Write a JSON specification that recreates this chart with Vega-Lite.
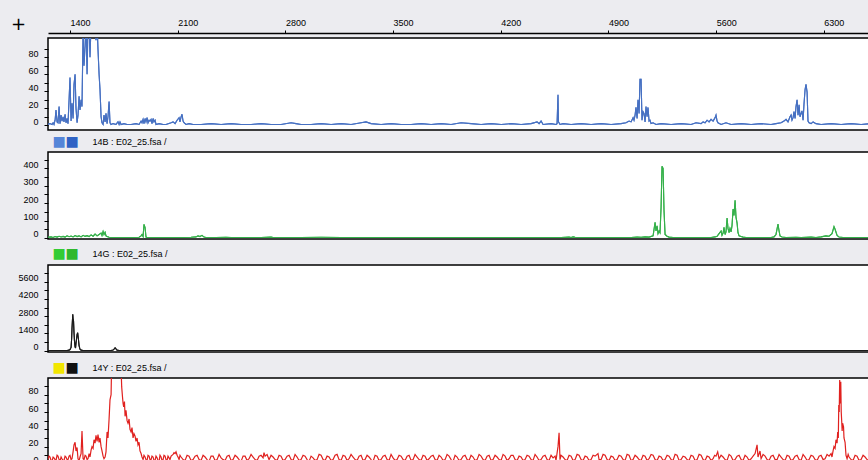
{
"$schema": "https://vega.github.io/schema/vega-lite/v6.json",
"padding": {"top": 14, "left": 0, "right": 0, "bottom": 0},
"background": "#ECECF0",
"bounds": "flush",
"spacing": 22,
"datasets": {
"blue": [{"x":1257,"y":1},{"x":1270,"y":2},{"x":1283,"y":1},{"x":1290,"y":3},{"x":1296,"y":1},{"x":1303,"y":6},{"x":1309,"y":18},{"x":1316,"y":4},{"x":1322,"y":3},{"x":1329,"y":22},{"x":1335,"y":2},{"x":1342,"y":12},{"x":1348,"y":5},{"x":1355,"y":10},{"x":1361,"y":4},{"x":1368,"y":13},{"x":1374,"y":3},{"x":1381,"y":8},{"x":1387,"y":2},{"x":1394,"y":30},{"x":1400,"y":56},{"x":1407,"y":5},{"x":1413,"y":26},{"x":1420,"y":8},{"x":1426,"y":48},{"x":1433,"y":60},{"x":1439,"y":20},{"x":1446,"y":3},{"x":1452,"y":12},{"x":1459,"y":34},{"x":1465,"y":18},{"x":1472,"y":30},{"x":1478,"y":22},{"x":1485,"y":110},{"x":1491,"y":70},{"x":1498,"y":93},{"x":1504,"y":120},{"x":1511,"y":60},{"x":1517,"y":120},{"x":1524,"y":120},{"x":1530,"y":80},{"x":1537,"y":120},{"x":1543,"y":120},{"x":1550,"y":115},{"x":1556,"y":120},{"x":1563,"y":120},{"x":1569,"y":100},{"x":1576,"y":120},{"x":1582,"y":89},{"x":1589,"y":60},{"x":1595,"y":42},{"x":1602,"y":10},{"x":1608,"y":3},{"x":1615,"y":1},{"x":1621,"y":12},{"x":1628,"y":4},{"x":1634,"y":14},{"x":1641,"y":2},{"x":1647,"y":10},{"x":1654,"y":28},{"x":1660,"y":3},{"x":1667,"y":1},{"x":1680,"y":2},{"x":1699,"y":1},{"x":1712,"y":4},{"x":1719,"y":1},{"x":1725,"y":4},{"x":1732,"y":1},{"x":1751,"y":2},{"x":1771,"y":1},{"x":1797,"y":1},{"x":1829,"y":2},{"x":1849,"y":1},{"x":1862,"y":5},{"x":1868,"y":3},{"x":1875,"y":7},{"x":1881,"y":2},{"x":1888,"y":8},{"x":1894,"y":4},{"x":1901,"y":9},{"x":1907,"y":3},{"x":1914,"y":6},{"x":1920,"y":5},{"x":1927,"y":7},{"x":1933,"y":2},{"x":1940,"y":8},{"x":1946,"y":4},{"x":1953,"y":6},{"x":1959,"y":1},{"x":1979,"y":2},{"x":2005,"y":1},{"x":2024,"y":1},{"x":2057,"y":3},{"x":2070,"y":4},{"x":2083,"y":2},{"x":2096,"y":6},{"x":2109,"y":9},{"x":2115,"y":4},{"x":2122,"y":10},{"x":2128,"y":13},{"x":2135,"y":5},{"x":2141,"y":3},{"x":2154,"y":1},{"x":2174,"y":2},{"x":2200,"y":1},{"x":2252,"y":1},{"x":2317,"y":2},{"x":2382,"y":1},{"x":2447,"y":2},{"x":2512,"y":1},{"x":2577,"y":1},{"x":2642,"y":2},{"x":2707,"y":1},{"x":2772,"y":1},{"x":2837,"y":3},{"x":2869,"y":2},{"x":2902,"y":1},{"x":2967,"y":1},{"x":3032,"y":2},{"x":3097,"y":1},{"x":3162,"y":2},{"x":3227,"y":1},{"x":3292,"y":3},{"x":3324,"y":4},{"x":3357,"y":2},{"x":3422,"y":1},{"x":3487,"y":2},{"x":3552,"y":1},{"x":3617,"y":1},{"x":3682,"y":2},{"x":3747,"y":1},{"x":3812,"y":2},{"x":3877,"y":1},{"x":3942,"y":3},{"x":4007,"y":2},{"x":4072,"y":1},{"x":4137,"y":2},{"x":4202,"y":1},{"x":4267,"y":2},{"x":4332,"y":1},{"x":4397,"y":2},{"x":4436,"y":4},{"x":4449,"y":2},{"x":4462,"y":5},{"x":4475,"y":1},{"x":4527,"y":2},{"x":4559,"y":1},{"x":4566,"y":2},{"x":4572,"y":36},{"x":4575,"y":4},{"x":4585,"y":1},{"x":4605,"y":2},{"x":4657,"y":1},{"x":4722,"y":2},{"x":4787,"y":1},{"x":4852,"y":2},{"x":4917,"y":1},{"x":4982,"y":2},{"x":5014,"y":3},{"x":5034,"y":5},{"x":5047,"y":4},{"x":5060,"y":9},{"x":5066,"y":6},{"x":5073,"y":12},{"x":5079,"y":21},{"x":5086,"y":8},{"x":5092,"y":30},{"x":5099,"y":14},{"x":5105,"y":54},{"x":5112,"y":54},{"x":5118,"y":6},{"x":5125,"y":16},{"x":5131,"y":14},{"x":5138,"y":4},{"x":5144,"y":22},{"x":5151,"y":10},{"x":5157,"y":21},{"x":5164,"y":5},{"x":5170,"y":6},{"x":5177,"y":2},{"x":5190,"y":3},{"x":5209,"y":1},{"x":5242,"y":2},{"x":5307,"y":1},{"x":5372,"y":2},{"x":5437,"y":1},{"x":5469,"y":3},{"x":5502,"y":2},{"x":5515,"y":4},{"x":5528,"y":3},{"x":5541,"y":6},{"x":5554,"y":4},{"x":5567,"y":7},{"x":5580,"y":5},{"x":5593,"y":9},{"x":5599,"y":12},{"x":5606,"y":5},{"x":5612,"y":3},{"x":5632,"y":1},{"x":5664,"y":3},{"x":5697,"y":1},{"x":5762,"y":2},{"x":5827,"y":1},{"x":5892,"y":2},{"x":5957,"y":1},{"x":5989,"y":2},{"x":6022,"y":3},{"x":6041,"y":5},{"x":6054,"y":7},{"x":6067,"y":4},{"x":6080,"y":10},{"x":6087,"y":12},{"x":6093,"y":6},{"x":6100,"y":9},{"x":6106,"y":16},{"x":6113,"y":8},{"x":6119,"y":22},{"x":6126,"y":30},{"x":6132,"y":12},{"x":6139,"y":24},{"x":6145,"y":10},{"x":6152,"y":14},{"x":6158,"y":17},{"x":6165,"y":6},{"x":6171,"y":25},{"x":6178,"y":42},{"x":6184,"y":48},{"x":6191,"y":39},{"x":6197,"y":5},{"x":6204,"y":3},{"x":6217,"y":2},{"x":6230,"y":4},{"x":6249,"y":2},{"x":6282,"y":1},{"x":6347,"y":2},{"x":6412,"y":1},{"x":6477,"y":2},{"x":6542,"y":1},{"x":6607,"y":2}],
"green": [{"x":1257,"y":4},{"x":1277,"y":6},{"x":1290,"y":3},{"x":1303,"y":8},{"x":1316,"y":5},{"x":1329,"y":10},{"x":1342,"y":6},{"x":1355,"y":9},{"x":1368,"y":5},{"x":1381,"y":12},{"x":1394,"y":7},{"x":1407,"y":11},{"x":1420,"y":6},{"x":1433,"y":14},{"x":1446,"y":8},{"x":1459,"y":12},{"x":1472,"y":6},{"x":1485,"y":15},{"x":1498,"y":9},{"x":1511,"y":13},{"x":1524,"y":8},{"x":1537,"y":18},{"x":1550,"y":10},{"x":1563,"y":22},{"x":1576,"y":12},{"x":1589,"y":20},{"x":1602,"y":28},{"x":1608,"y":14},{"x":1615,"y":37},{"x":1621,"y":20},{"x":1628,"y":32},{"x":1634,"y":12},{"x":1641,"y":8},{"x":1654,"y":4},{"x":1667,"y":3},{"x":1732,"y":3},{"x":1797,"y":3},{"x":1849,"y":4},{"x":1862,"y":12},{"x":1868,"y":20},{"x":1875,"y":8},{"x":1881,"y":78},{"x":1888,"y":60},{"x":1894,"y":5},{"x":1901,"y":3},{"x":1927,"y":3},{"x":1992,"y":3},{"x":2057,"y":3},{"x":2122,"y":3},{"x":2187,"y":4},{"x":2219,"y":6},{"x":2232,"y":12},{"x":2245,"y":8},{"x":2258,"y":15},{"x":2271,"y":5},{"x":2284,"y":3},{"x":2349,"y":3},{"x":2414,"y":4},{"x":2447,"y":3},{"x":2512,"y":3},{"x":2642,"y":3},{"x":2707,"y":5},{"x":2720,"y":3},{"x":2772,"y":3},{"x":2902,"y":3},{"x":3032,"y":4},{"x":3162,"y":3},{"x":3292,"y":3},{"x":3422,"y":3},{"x":3552,"y":3},{"x":3682,"y":3},{"x":3812,"y":3},{"x":3942,"y":3},{"x":4072,"y":3},{"x":4202,"y":3},{"x":4332,"y":3},{"x":4462,"y":3},{"x":4592,"y":3},{"x":4644,"y":5},{"x":4657,"y":3},{"x":4670,"y":6},{"x":4683,"y":4},{"x":4696,"y":3},{"x":4787,"y":3},{"x":4852,"y":3},{"x":4982,"y":3},{"x":5047,"y":3},{"x":5086,"y":5},{"x":5112,"y":4},{"x":5138,"y":6},{"x":5164,"y":5},{"x":5190,"y":12},{"x":5203,"y":90},{"x":5209,"y":40},{"x":5216,"y":70},{"x":5222,"y":25},{"x":5229,"y":40},{"x":5235,"y":30},{"x":5242,"y":175},{"x":5248,"y":412},{"x":5255,"y":400},{"x":5261,"y":160},{"x":5268,"y":20},{"x":5281,"y":10},{"x":5294,"y":5},{"x":5320,"y":3},{"x":5437,"y":3},{"x":5567,"y":3},{"x":5593,"y":6},{"x":5606,"y":10},{"x":5619,"y":25},{"x":5632,"y":40},{"x":5638,"y":15},{"x":5645,"y":28},{"x":5651,"y":61},{"x":5658,"y":20},{"x":5664,"y":35},{"x":5671,"y":115},{"x":5677,"y":55},{"x":5684,"y":30},{"x":5690,"y":55},{"x":5697,"y":35},{"x":5703,"y":70},{"x":5710,"y":166},{"x":5716,"y":130},{"x":5723,"y":217},{"x":5729,"y":120},{"x":5736,"y":85},{"x":5742,"y":30},{"x":5749,"y":12},{"x":5762,"y":8},{"x":5775,"y":5},{"x":5794,"y":3},{"x":5892,"y":3},{"x":5957,"y":3},{"x":5976,"y":6},{"x":5989,"y":20},{"x":5996,"y":52},{"x":6002,"y":80},{"x":6009,"y":40},{"x":6015,"y":12},{"x":6028,"y":5},{"x":6054,"y":3},{"x":6119,"y":4},{"x":6152,"y":3},{"x":6217,"y":5},{"x":6249,"y":3},{"x":6282,"y":6},{"x":6314,"y":12},{"x":6334,"y":10},{"x":6353,"y":25},{"x":6366,"y":65},{"x":6373,"y":50},{"x":6386,"y":15},{"x":6399,"y":5},{"x":6425,"y":3},{"x":6477,"y":3},{"x":6542,"y":3},{"x":6607,"y":3}],
"black": [{"x":1257,"y":0},{"x":1342,"y":0},{"x":1381,"y":0},{"x":1394,"y":30},{"x":1400,"y":80},{"x":1407,"y":250},{"x":1411,"y":1040},{"x":1413,"y":1800},{"x":1418,"y":2945},{"x":1420,"y":2600},{"x":1423,"y":2400},{"x":1426,"y":1450},{"x":1429,"y":800},{"x":1433,"y":300},{"x":1436,"y":200},{"x":1439,"y":600},{"x":1442,"y":900},{"x":1446,"y":1300},{"x":1450,"y":1450},{"x":1452,"y":1200},{"x":1455,"y":900},{"x":1459,"y":400},{"x":1465,"y":100},{"x":1472,"y":30},{"x":1485,"y":0},{"x":1667,"y":0},{"x":1680,"y":40},{"x":1686,"y":120},{"x":1693,"y":220},{"x":1699,"y":130},{"x":1706,"y":30},{"x":1719,"y":0},{"x":2252,"y":0},{"x":3552,"y":0},{"x":4852,"y":0},{"x":6607,"y":0}],
"red": [{"x":1257,"y":5},{"x":1264,"y":9},{"x":1270,"y":8},{"x":1277,"y":4},{"x":1283,"y":3},{"x":1290,"y":8},{"x":1296,"y":7},{"x":1303,"y":5},{"x":1309,"y":4},{"x":1316,"y":10},{"x":1322,"y":9},{"x":1329,"y":5},{"x":1335,"y":3},{"x":1342,"y":8},{"x":1348,"y":6},{"x":1355,"y":4},{"x":1361,"y":4},{"x":1368,"y":9},{"x":1374,"y":8},{"x":1381,"y":5},{"x":1387,"y":5},{"x":1394,"y":9},{"x":1400,"y":10},{"x":1407,"y":5},{"x":1413,"y":6},{"x":1420,"y":14},{"x":1426,"y":22},{"x":1433,"y":25},{"x":1439,"y":15},{"x":1446,"y":19},{"x":1452,"y":6},{"x":1459,"y":4},{"x":1465,"y":8},{"x":1472,"y":12},{"x":1478,"y":38},{"x":1485,"y":6},{"x":1491,"y":5},{"x":1498,"y":10},{"x":1504,"y":9},{"x":1511,"y":5},{"x":1517,"y":6},{"x":1524,"y":12},{"x":1530,"y":8},{"x":1537,"y":16},{"x":1543,"y":20},{"x":1550,"y":18},{"x":1556,"y":28},{"x":1563,"y":24},{"x":1569,"y":33},{"x":1576,"y":26},{"x":1582,"y":34},{"x":1589,"y":25},{"x":1595,"y":30},{"x":1602,"y":20},{"x":1608,"y":15},{"x":1615,"y":9},{"x":1621,"y":6},{"x":1628,"y":8},{"x":1634,"y":14},{"x":1641,"y":37},{"x":1647,"y":30},{"x":1654,"y":52},{"x":1660,"y":74},{"x":1667,"y":80},{"x":1671,"y":120},{"x":1680,"y":130},{"x":1693,"y":130},{"x":1706,"y":130},{"x":1719,"y":130},{"x":1732,"y":110},{"x":1736,"y":89},{"x":1741,"y":78},{"x":1745,"y":70},{"x":1749,"y":66},{"x":1754,"y":72},{"x":1758,"y":55},{"x":1764,"y":62},{"x":1771,"y":50},{"x":1777,"y":47},{"x":1784,"y":52},{"x":1790,"y":40},{"x":1797,"y":37},{"x":1803,"y":42},{"x":1810,"y":30},{"x":1816,"y":35},{"x":1823,"y":32},{"x":1829,"y":26},{"x":1836,"y":30},{"x":1842,"y":22},{"x":1849,"y":25},{"x":1855,"y":15},{"x":1862,"y":12},{"x":1868,"y":8},{"x":1875,"y":5},{"x":1881,"y":10},{"x":1888,"y":8},{"x":1894,"y":5},{"x":1901,"y":4},{"x":1907,"y":10},{"x":1914,"y":9},{"x":1920,"y":5},{"x":1927,"y":5},{"x":1933,"y":9},{"x":1940,"y":8},{"x":1946,"y":4},{"x":1953,"y":4},{"x":1959,"y":9},{"x":1966,"y":7},{"x":1972,"y":4},{"x":1979,"y":3},{"x":1985,"y":10},{"x":1992,"y":8},{"x":1998,"y":4},{"x":2005,"y":5},{"x":2011,"y":10},{"x":2018,"y":9},{"x":2024,"y":5},{"x":2031,"y":4},{"x":2037,"y":9},{"x":2044,"y":7},{"x":2050,"y":5},{"x":2057,"y":9},{"x":2070,"y":11},{"x":2076,"y":13},{"x":2083,"y":12},{"x":2089,"y":14},{"x":2096,"y":10},{"x":2102,"y":8},{"x":2109,"y":5},{"x":2115,"y":10},{"x":2122,"y":8},{"x":2135,"y":5},{"x":2148,"y":4},{"x":2161,"y":10},{"x":2174,"y":9},{"x":2187,"y":4},{"x":2200,"y":5},{"x":2213,"y":9},{"x":2226,"y":10},{"x":2239,"y":5},{"x":2252,"y":4},{"x":2265,"y":10},{"x":2278,"y":8},{"x":2291,"y":5},{"x":2304,"y":3},{"x":2317,"y":9},{"x":2330,"y":9},{"x":2343,"y":4},{"x":2356,"y":5},{"x":2369,"y":11},{"x":2382,"y":7},{"x":2395,"y":5},{"x":2408,"y":4},{"x":2421,"y":9},{"x":2434,"y":10},{"x":2447,"y":4},{"x":2460,"y":5},{"x":2473,"y":10},{"x":2486,"y":8},{"x":2499,"y":5},{"x":2512,"y":3},{"x":2525,"y":9},{"x":2538,"y":9},{"x":2551,"y":4},{"x":2564,"y":6},{"x":2577,"y":11},{"x":2590,"y":8},{"x":2603,"y":5},{"x":2616,"y":4},{"x":2629,"y":9},{"x":2642,"y":10},{"x":2655,"y":7},{"x":2661,"y":13},{"x":2668,"y":9},{"x":2681,"y":11},{"x":2694,"y":5},{"x":2707,"y":10},{"x":2720,"y":8},{"x":2733,"y":5},{"x":2746,"y":4},{"x":2759,"y":10},{"x":2772,"y":9},{"x":2785,"y":4},{"x":2798,"y":5},{"x":2811,"y":9},{"x":2824,"y":10},{"x":2837,"y":5},{"x":2850,"y":4},{"x":2863,"y":11},{"x":2876,"y":8},{"x":2889,"y":4},{"x":2902,"y":5},{"x":2915,"y":10},{"x":2928,"y":9},{"x":2941,"y":5},{"x":2954,"y":3},{"x":2967,"y":9},{"x":2980,"y":7},{"x":2993,"y":4},{"x":3006,"y":5},{"x":3019,"y":11},{"x":3032,"y":10},{"x":3045,"y":5},{"x":3058,"y":4},{"x":3071,"y":9},{"x":3084,"y":8},{"x":3097,"y":4},{"x":3110,"y":5},{"x":3123,"y":10},{"x":3136,"y":11},{"x":3149,"y":5},{"x":3162,"y":4},{"x":3175,"y":10},{"x":3188,"y":9},{"x":3201,"y":4},{"x":3214,"y":6},{"x":3227,"y":11},{"x":3240,"y":8},{"x":3253,"y":5},{"x":3266,"y":4},{"x":3279,"y":9},{"x":3292,"y":10},{"x":3305,"y":4},{"x":3318,"y":5},{"x":3331,"y":10},{"x":3344,"y":8},{"x":3357,"y":5},{"x":3370,"y":3},{"x":3383,"y":10},{"x":3396,"y":9},{"x":3409,"y":4},{"x":3422,"y":5},{"x":3435,"y":9},{"x":3448,"y":10},{"x":3461,"y":5},{"x":3474,"y":4},{"x":3487,"y":11},{"x":3500,"y":7},{"x":3513,"y":4},{"x":3526,"y":5},{"x":3539,"y":10},{"x":3552,"y":9},{"x":3565,"y":5},{"x":3578,"y":4},{"x":3591,"y":9},{"x":3604,"y":10},{"x":3617,"y":4},{"x":3630,"y":5},{"x":3643,"y":11},{"x":3656,"y":8},{"x":3669,"y":5},{"x":3682,"y":4},{"x":3695,"y":10},{"x":3708,"y":9},{"x":3721,"y":4},{"x":3734,"y":6},{"x":3747,"y":9},{"x":3760,"y":10},{"x":3773,"y":5},{"x":3786,"y":4},{"x":3799,"y":10},{"x":3812,"y":8},{"x":3825,"y":4},{"x":3838,"y":5},{"x":3851,"y":11},{"x":3864,"y":9},{"x":3877,"y":5},{"x":3890,"y":3},{"x":3903,"y":10},{"x":3916,"y":8},{"x":3929,"y":4},{"x":3942,"y":5},{"x":3955,"y":9},{"x":3968,"y":10},{"x":3981,"y":5},{"x":3994,"y":4},{"x":4007,"y":10},{"x":4020,"y":8},{"x":4033,"y":4},{"x":4046,"y":5},{"x":4059,"y":11},{"x":4072,"y":9},{"x":4085,"y":5},{"x":4098,"y":4},{"x":4111,"y":9},{"x":4124,"y":10},{"x":4137,"y":4},{"x":4150,"y":5},{"x":4163,"y":10},{"x":4176,"y":8},{"x":4189,"y":5},{"x":4202,"y":4},{"x":4215,"y":11},{"x":4228,"y":9},{"x":4241,"y":4},{"x":4254,"y":6},{"x":4267,"y":10},{"x":4280,"y":10},{"x":4293,"y":5},{"x":4306,"y":4},{"x":4319,"y":9},{"x":4332,"y":8},{"x":4345,"y":4},{"x":4358,"y":5},{"x":4371,"y":10},{"x":4384,"y":9},{"x":4397,"y":5},{"x":4410,"y":4},{"x":4423,"y":11},{"x":4436,"y":8},{"x":4449,"y":4},{"x":4462,"y":5},{"x":4475,"y":9},{"x":4488,"y":10},{"x":4501,"y":5},{"x":4514,"y":4},{"x":4527,"y":10},{"x":4540,"y":7},{"x":4553,"y":9},{"x":4559,"y":4},{"x":4572,"y":20},{"x":4579,"y":36},{"x":4585,"y":5},{"x":4592,"y":10},{"x":4605,"y":8},{"x":4618,"y":5},{"x":4631,"y":4},{"x":4644,"y":10},{"x":4657,"y":9},{"x":4670,"y":4},{"x":4683,"y":5},{"x":4696,"y":11},{"x":4709,"y":10},{"x":4722,"y":5},{"x":4735,"y":4},{"x":4748,"y":9},{"x":4761,"y":8},{"x":4774,"y":4},{"x":4787,"y":5},{"x":4800,"y":10},{"x":4813,"y":9},{"x":4832,"y":12},{"x":4839,"y":5},{"x":4852,"y":5},{"x":4865,"y":11},{"x":4878,"y":10},{"x":4891,"y":5},{"x":4904,"y":4},{"x":4917,"y":9},{"x":4930,"y":8},{"x":4943,"y":4},{"x":4956,"y":5},{"x":4969,"y":10},{"x":4982,"y":9},{"x":4995,"y":5},{"x":5008,"y":4},{"x":5021,"y":11},{"x":5034,"y":10},{"x":5047,"y":4},{"x":5060,"y":5},{"x":5073,"y":10},{"x":5086,"y":8},{"x":5099,"y":5},{"x":5112,"y":4},{"x":5125,"y":10},{"x":5138,"y":9},{"x":5151,"y":4},{"x":5164,"y":6},{"x":5177,"y":11},{"x":5190,"y":10},{"x":5203,"y":5},{"x":5216,"y":4},{"x":5229,"y":9},{"x":5242,"y":8},{"x":5255,"y":4},{"x":5268,"y":5},{"x":5281,"y":10},{"x":5294,"y":9},{"x":5307,"y":5},{"x":5320,"y":4},{"x":5333,"y":11},{"x":5346,"y":10},{"x":5359,"y":4},{"x":5372,"y":5},{"x":5385,"y":9},{"x":5398,"y":8},{"x":5411,"y":5},{"x":5424,"y":4},{"x":5437,"y":10},{"x":5450,"y":9},{"x":5463,"y":4},{"x":5476,"y":5},{"x":5489,"y":11},{"x":5502,"y":10},{"x":5515,"y":5},{"x":5528,"y":4},{"x":5541,"y":9},{"x":5554,"y":8},{"x":5567,"y":4},{"x":5580,"y":6},{"x":5590,"y":10},{"x":5599,"y":9},{"x":5610,"y":14},{"x":5619,"y":6},{"x":5632,"y":10},{"x":5645,"y":8},{"x":5658,"y":5},{"x":5671,"y":4},{"x":5684,"y":11},{"x":5697,"y":9},{"x":5710,"y":4},{"x":5723,"y":5},{"x":5736,"y":9},{"x":5749,"y":10},{"x":5762,"y":5},{"x":5775,"y":4},{"x":5788,"y":10},{"x":5801,"y":8},{"x":5814,"y":4},{"x":5827,"y":6},{"x":5840,"y":9},{"x":5853,"y":12},{"x":5866,"y":22},{"x":5872,"y":8},{"x":5885,"y":15},{"x":5892,"y":6},{"x":5905,"y":11},{"x":5918,"y":9},{"x":5931,"y":5},{"x":5944,"y":4},{"x":5957,"y":9},{"x":5970,"y":10},{"x":5983,"y":5},{"x":5996,"y":5},{"x":6009,"y":11},{"x":6022,"y":8},{"x":6035,"y":5},{"x":6048,"y":4},{"x":6061,"y":10},{"x":6074,"y":9},{"x":6087,"y":4},{"x":6100,"y":5},{"x":6113,"y":9},{"x":6126,"y":10},{"x":6139,"y":5},{"x":6152,"y":4},{"x":6165,"y":11},{"x":6178,"y":8},{"x":6191,"y":4},{"x":6204,"y":5},{"x":6217,"y":10},{"x":6230,"y":9},{"x":6243,"y":5},{"x":6256,"y":4},{"x":6269,"y":9},{"x":6282,"y":10},{"x":6295,"y":5},{"x":6308,"y":6},{"x":6321,"y":11},{"x":6334,"y":9},{"x":6347,"y":12},{"x":6353,"y":8},{"x":6360,"y":15},{"x":6366,"y":20},{"x":6373,"y":18},{"x":6379,"y":28},{"x":6386,"y":24},{"x":6390,"y":37},{"x":6394,"y":30},{"x":6397,"y":68},{"x":6400,"y":60},{"x":6403,"y":97},{"x":6406,"y":70},{"x":6410,"y":95},{"x":6413,"y":60},{"x":6416,"y":50},{"x":6419,"y":38},{"x":6422,"y":47},{"x":6428,"y":43},{"x":6431,"y":30},{"x":6438,"y":25},{"x":6444,"y":10},{"x":6451,"y":6},{"x":6458,"y":11},{"x":6464,"y":8},{"x":6477,"y":5},{"x":6490,"y":4},{"x":6503,"y":10},{"x":6516,"y":9},{"x":6529,"y":4},{"x":6542,"y":5},{"x":6555,"y":10},{"x":6568,"y":8},{"x":6581,"y":5},{"x":6594,"y":4},{"x":6607,"y":9},{"x":6620,"y":7}]
},
"vconcat": [
{
"width": 822, "height": 92,
"data": {"name": "blue"},
"encoding": {
 "y": {"field": "y", "type": "quantitative", "scale": {"domain": [-5.5, 102.5], "nice": false, "zero": false},
  "axis": {"values": [0,10,20,30,40,50,60,70,80,90], "labelExpr": "datum.value % 20 === 0 ? datum.label : ''", "domain": false, "tickSize": 4, "labelPadding": 6, "labelOffset": -4, "title": null, "minExtent": 47, "maxExtent": 47}}
},
"layer": [
{"mark": {"type": "line", "color": "#4670C2", "strokeWidth": 1.1, "clip": true},
 "encoding": {
  "x": {"field": "x", "type": "quantitative", "scale": {"domain": [1257, 6600], "nice": false, "zero": false},
   "axis": {"orient": "top", "offset": 5, "values": [1400, 2100, 2800, 3500, 4200, 4900, 5600, 6300], "format": "d", "domain": true, "domainWidth": 1.5, "tickSize": 3, "labelAlign": "left", "labelPadding": 3, "title": "+", "titleX": -30, "titleY": -9, "titleAlign": "center", "titleBaseline": "middle", "titleFont": "DejaVu Sans", "titleFontSize": 18, "titleColor": "#000"}}
 }},
{"mark": {"type": "line", "color": "#4670C2", "strokeWidth": 1.1, "clip": true},
 "encoding": {
  "x": {"field": "x", "type": "quantitative",
   "axis": {"orient": "bottom", "domain": false, "ticks": false, "labels": false, "title": "14B : E02_25.fsa /", "titleX": 44, "titleY": 11, "titleAlign": "left", "titleBaseline": "middle", "titleFont": "Liberation Sans", "titleFontSize": 9, "titleColor": "#000"}}
 }}
],
"resolve": {"axis": {"x": "independent"}}
},
{
"bounds": "flush",
"spacing": 26,
"vconcat": [
{
"width": 822, "height": 87,
"data": {"name": "green"},
"encoding": {
 "y": {"field": "y", "type": "quantitative", "scale": {"domain": [-6, 494], "nice": false, "zero": false},
  "axis": {"values": [0,50,100,150,200,250,300,350,400,450], "labelExpr": "datum.value % 100 === 0 ? datum.label : ''", "domain": false, "tickSize": 4, "labelPadding": 6, "labelOffset": -4, "title": "■", "titleAngle": 0, "titleX": 4, "titleY": -11, "titleAlign": "left", "titleBaseline": "middle", "titleFont": "DejaVu Sans", "titleFontSize": 14, "titleColor": "#5585D8", "minExtent": 47, "maxExtent": 47}}
},
"layer": [
{"mark": {"type": "line", "color": "#35B04A", "strokeWidth": 1.1, "clip": true},
 "encoding": {
  "x": {"field": "x", "type": "quantitative", "scale": {"domain": [1257, 6600], "nice": false, "zero": false},
   "axis": {"orient": "top", "domain": false, "ticks": false, "labels": false, "title": "■", "titleX": 17, "titleY": -11, "titleAlign": "left", "titleBaseline": "middle", "titleFont": "DejaVu Sans", "titleFontSize": 14, "titleColor": "#2F62C4"}}
 }},
{"mark": {"type": "line", "color": "#35B04A", "strokeWidth": 1.1, "clip": true},
 "encoding": {
  "x": {"field": "x", "type": "quantitative",
   "axis": {"orient": "bottom", "domain": false, "ticks": false, "labels": false, "title": "14G : E02_25.fsa /", "titleX": 44, "titleY": 14.5, "titleAlign": "left", "titleBaseline": "middle", "titleFont": "Liberation Sans", "titleFontSize": 9, "titleColor": "#000"}}
 }}
],
"resolve": {"axis": {"x": "independent"}}
},
{
"width": 822, "height": 87,
"data": {"name": "black"},
"encoding": {
 "y": {"field": "y", "type": "quantitative", "scale": {"domain": [-120, 6960], "nice": false, "zero": false},
  "axis": {"values": [0,700,1400,2100,2800,3500,4200,4900,5600,6300], "labelExpr": "datum.value % 1400 === 0 ? datum.label : ''", "format": "d", "domain": false, "tickSize": 4, "labelPadding": 6, "labelOffset": -4, "title": "■", "titleAngle": 0, "titleX": 4, "titleY": -11.5, "titleAlign": "left", "titleBaseline": "middle", "titleFont": "DejaVu Sans", "titleFontSize": 14, "titleColor": "#33CC33", "minExtent": 47, "maxExtent": 47}}
},
"layer": [
{"mark": {"type": "line", "color": "#1A1A1A", "strokeWidth": 1.1, "clip": true},
 "encoding": {
  "x": {"field": "x", "type": "quantitative", "scale": {"domain": [1257, 6600], "nice": false, "zero": false},
   "axis": {"orient": "top", "domain": false, "ticks": false, "labels": false, "title": "■", "titleX": 17, "titleY": -11.5, "titleAlign": "left", "titleBaseline": "middle", "titleFont": "DejaVu Sans", "titleFontSize": 14, "titleColor": "#2EB82E"}}
 }},
{"mark": {"type": "line", "color": "#1A1A1A", "strokeWidth": 1.1, "clip": true},
 "encoding": {
  "x": {"field": "x", "type": "quantitative",
   "axis": {"orient": "bottom", "domain": false, "ticks": false, "labels": false, "title": "14Y : E02_25.fsa /", "titleX": 44, "titleY": 15, "titleAlign": "left", "titleBaseline": "middle", "titleFont": "Liberation Sans", "titleFontSize": 9, "titleColor": "#000"}}
 }}
],
"resolve": {"axis": {"x": "independent"}}
},
{
"width": 822, "height": 92,
"data": {"name": "red"},
"mark": {"type": "line", "color": "#E0211F", "strokeWidth": 1.2, "clip": true},
"encoding": {
 "x": {"field": "x", "type": "quantitative", "scale": {"domain": [1257, 6600], "nice": false, "zero": false},
  "axis": {"orient": "top", "domain": false, "ticks": false, "labels": false, "title": "■", "titleX": 17, "titleY": -11, "titleAlign": "left", "titleBaseline": "middle", "titleFont": "DejaVu Sans", "titleFontSize": 14, "titleColor": "#111111"}},
 "y": {"field": "y", "type": "quantitative", "scale": {"domain": [-7, 99.3], "nice": false, "zero": false},
  "axis": {"values": [0,10,20,30,40,50,60,70,80,90], "labelExpr": "datum.value % 20 === 0 ? datum.label : ''", "domain": false, "tickSize": 4, "labelPadding": 6, "labelOffset": -4, "title": "■", "titleAngle": 0, "titleX": 4, "titleY": -11, "titleAlign": "left", "titleBaseline": "middle", "titleFont": "DejaVu Sans", "titleFontSize": 14, "titleColor": "#F2E600", "minExtent": 47, "maxExtent": 47}}
}
}
]
}
],
"config": {
 "view": {"fill": "#FFFFFF", "stroke": "#000000", "strokeWidth": 1.5},
 "axis": {"labelFont": "Liberation Sans", "labelFontSize": 9, "labelColor": "#000000", "tickColor": "#000000", "domainColor": "#000000", "grid": false, "titleFontWeight": "normal", "labelOverlap": false, "labelFlush": false}
}
}
